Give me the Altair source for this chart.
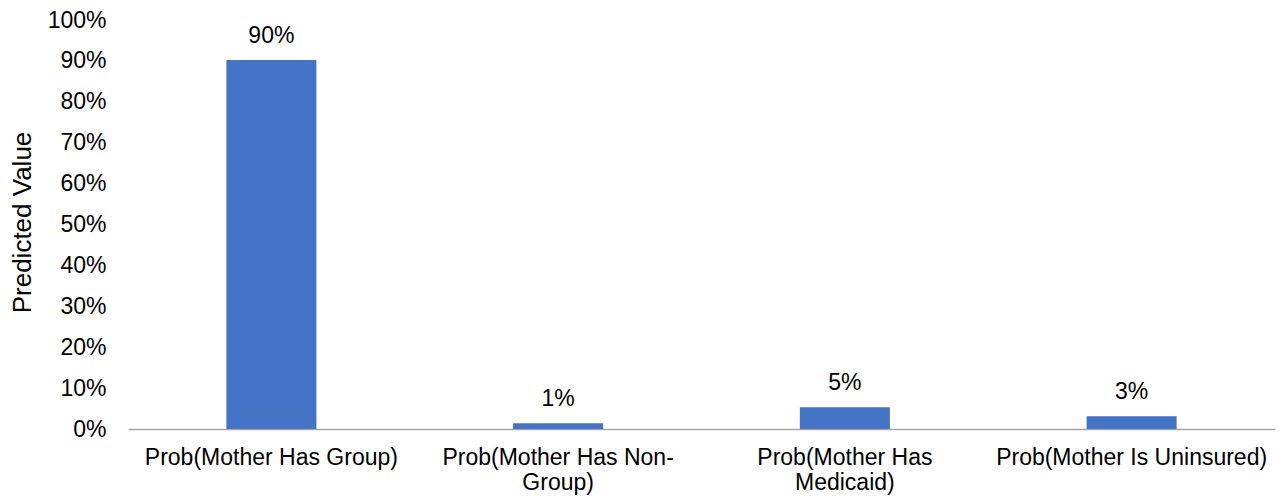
import altair as alt
import pandas as pd

# Predicted probabilities of the mother's insurance status
categories = [
    "Prob(Mother Has Group)",
    "Prob(Mother Has Non-Group)",
    "Prob(Mother Has Medicaid)",
    "Prob(Mother Is Uninsured)",
]
values = [0.902, 0.014, 0.053, 0.031]

# Line breaks used for the longer category labels
wrapped = {
    "Prob(Mother Has Non-Group)": ["Prob(Mother Has Non-", "Group)"],
    "Prob(Mother Has Medicaid)": ["Prob(Mother Has", "Medicaid)"],
}

y_ticks = [i / 10 for i in range(11)]

df = pd.DataFrame({"category": categories, "value": values})

label_expr = ""
for key, lines in wrapped.items():
    parts = ", ".join("'" + s + "'" for s in lines)
    label_expr += f"datum.value == '{key}' ? [{parts}] : "
label_expr += "datum.value"

FONT = "Liberation Sans"

x_enc = alt.X(
    "category:N",
    sort=categories,
    scale=alt.Scale(paddingInner=0, paddingOuter=0),
    axis=alt.Axis(
        title=None,
        labelAngle=0,
        labelExpr=label_expr,
        labelFont=FONT,
        labelFontSize=23,
        labelColor="#000000",
        labelLineHeight=25,
        labelBaseline="top",
        labelPadding=17,
        labelLimit=1000,
        labelOverlap=False,
        ticks=False,
        domainColor="#A6A6A6",
        domainWidth=1.5,
        grid=False,
    ),
)

y_enc = alt.Y(
    "value:Q",
    scale=alt.Scale(domain=[0, 1], nice=False),
    axis=alt.Axis(
        title="Predicted Value",
        values=y_ticks,
        format=".0%",
        labelFont=FONT,
        labelFontSize=23,
        labelColor="#000000",
        labelPadding=22,
        ticks=False,
        tickSize=0,
        domain=False,
        grid=False,
        titleFont=FONT,
        titleFontSize=26,
        titleFontWeight="normal",
        titleColor="#000000",
        titleAngle=-90,
        titleX=-106,
        titleY=202,
        titleAlign="center",
        titleBaseline="middle",
    ),
)

bars = alt.Chart(df).mark_bar(size=90, color="#4472C4").encode(x=x_enc, y=y_enc)

labels = alt.Chart(df).mark_text(
    font=FONT, fontSize=23, color="#000000", baseline="alphabetic", dy=-17
).encode(
    x=alt.X("category:N", sort=categories),
    y=alt.Y("value:Q"),
    text=alt.Text("value:Q", format=".0%"),
)

chart = (
    alt.layer(bars, labels)
    .properties(
        width=1147,
        height=409,
        autosize=alt.AutoSizeParams(type="none"),
        padding={"left": 128, "top": 20, "right": 8, "bottom": 70},
        background="#FFFFFF",
    )
    .configure_view(stroke=None)
)

chart.save("out.html", embed_options={"renderer": "svg", "actions": False})
